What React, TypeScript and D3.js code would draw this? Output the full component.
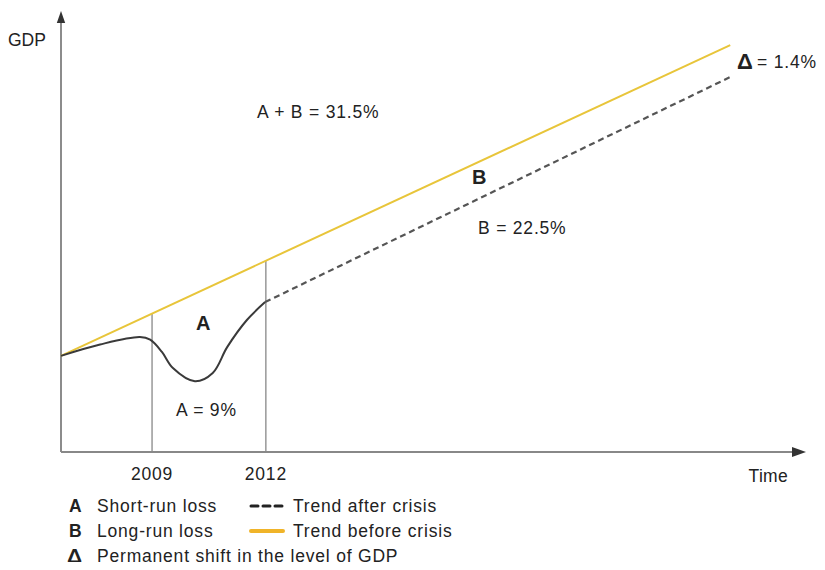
import { useEffect, useRef } from 'react';
import * as d3 from 'd3';

// time axis in years, GDP as an index (0 at the x axis)
const xDomain = [2006.6, 2026];
const yDomain = [0, 100];

const trendBefore: [number, number][] = [
  [2006.6, 22.0],
  [2024.24, 93.1],
];

const trendAfter: [number, number][] = [
  [2011.98, 34.3],
  [2024.24, 85.8],
];

const actualGdp: [number, number][] = [
  [2006.6, 22.0],
  [2007.63, 24.6],
  [2008.68, 26.3],
  [2008.95, 25.7],
  [2009.26, 22.9],
  [2009.55, 19.2],
  [2010.13, 16.2],
  [2010.6, 18.1],
  [2010.98, 24.0],
  [2011.5, 30.2],
  [2011.98, 34.3],
];

const markerYears = [2009, 2012];

const legendRows = [
  { key: 'A', text: 'Short-run loss', line: 'dash', lineText: 'Trend after crisis' },
  { key: 'B', text: 'Long-run loss', line: 'solid', lineText: 'Trend before crisis' },
  { key: 'Δ', text: 'Permanent shift in the level of GDP', line: null, lineText: '' },
];

const FONT = 'Liberation Sans, Arial, sans-serif';
const TEXT = '#222';
const YELLOW_LINE = '#e8c53a';
const YELLOW_LEGEND = '#f0b429';

export default function App() {
  const svgRef = useRef<SVGSVGElement>(null);

  useEffect(() => {
    if (!svgRef.current) return;
    const width = 825;
    const height = 570;
    const margin = { left: 61, right: 28, top: 15, bottom: 118 };

    const svg = d3.select(svgRef.current);
    svg.selectAll('*').remove();

    const x = d3.scaleLinear().domain(xDomain).range([margin.left, width - margin.right]);
    const y = d3.scaleLinear().domain(yDomain).range([height - margin.bottom, margin.top]);
    const x0 = x(xDomain[0]);
    const y0 = y(0);

    const defs = svg.append('defs');
    defs.append('marker')
      .attr('id', 'arrow')
      .attr('viewBox', '0 0 10 10')
      .attr('refX', 5)
      .attr('refY', 5)
      .attr('markerWidth', 8)
      .attr('markerHeight', 8)
      .attr('orient', 'auto')
      .append('path')
      .attr('d', 'M0,1.5 L10,5 L0,8.5 z')
      .attr('fill', '#333');

    // axes
    svg.append('line')
      .attr('x1', x0).attr('y1', y0)
      .attr('x2', x0).attr('y2', y(100) + 2)
      .attr('stroke', '#666').attr('stroke-width', 1.5)
      .attr('marker-end', 'url(#arrow)');
    svg.append('line')
      .attr('x1', x0).attr('y1', y0)
      .attr('x2', width - margin.right + 2).attr('y2', y0)
      .attr('stroke', '#888').attr('stroke-width', 1.8)
      .attr('marker-end', 'url(#arrow)');

    const trendAt = (yr: number) => {
      const [[a, va], [b, vb]] = trendBefore;
      return va + ((vb - va) * (yr - a)) / (b - a);
    };

    const label = (tx: number, ty: number, s: string, opts: { bold?: boolean; size?: number; anchor?: string; spacing?: number } = {}) =>
      svg.append('text')
        .attr('x', tx).attr('y', ty)
        .attr('text-anchor', opts.anchor || 'start')
        .attr('font-family', FONT)
        .attr('font-size', opts.size || 17.5)
        .attr('letter-spacing', opts.spacing ?? 0.8)
        .attr('font-weight', opts.bold ? 'bold' : 'normal')
        .attr('fill', TEXT)
        .text(s);

    // vertical markers
    markerYears.forEach(yr => {
      svg.append('line')
        .attr('x1', x(yr)).attr('x2', x(yr))
        .attr('y1', y0).attr('y2', y(trendAt(yr)))
        .attr('stroke', '#888').attr('stroke-width', 1.3);
      label(x(yr), y0 + 28, String(yr), { anchor: 'middle' });
    });

    const line = d3.line<[number, number]>().x(d => x(d[0])).y(d => y(d[1]));

    svg.append('path')
      .attr('d', line(trendBefore))
      .attr('fill', 'none').attr('stroke', YELLOW_LINE).attr('stroke-width', 2);

    svg.append('path')
      .attr('d', line(trendAfter))
      .attr('fill', 'none').attr('stroke', '#555').attr('stroke-width', 2.2)
      .attr('stroke-dasharray', '6,4');

    svg.append('path')
      .attr('d', line.curve(d3.curveCatmullRom.alpha(0.5))(actualGdp))
      .attr('fill', 'none').attr('stroke', '#3a3a3a').attr('stroke-width', 2);

    label(8, 46, 'GDP', { spacing: 0 });
    label(788, 482, 'Time', { anchor: 'end', spacing: 0.3 });
    label(257, 118, 'A + B = 31.5%');
    label(472, 184, 'B', { bold: true, size: 20, spacing: 0 });
    label(478, 234, 'B = 22.5%');
    label(196, 330, 'A', { bold: true, size: 20, spacing: 0 });
    label(176, 416, 'A = 9%');
    label(737, 69, 'Δ', { bold: true, size: 22, spacing: 0 });
    label(757, 68, '= 1.4%');

    // legend
    legendRows.forEach((row, i) => {
      const ly = 512 + i * 25;
      const isDelta = row.key === 'Δ';
      label(isDelta ? 67 : 69, ly + (isDelta ? 1 : 0), row.key, { bold: true, size: isDelta ? 21 : 17.5, spacing: 0 });
      label(97, ly, row.text);
      if (row.line) {
        svg.append('line')
          .attr('x1', 251).attr('x2', 283)
          .attr('y1', ly - 6).attr('y2', ly - 6)
          .attr('stroke', row.line === 'dash' ? '#222' : YELLOW_LEGEND)
          .attr('stroke-width', row.line === 'dash' ? 3 : 4)
          .attr('stroke-linecap', 'round')
          .attr('stroke-dasharray', row.line === 'dash' ? '7,5' : null);
        label(293, ly, row.lineText);
      }
    });
  }, []);

  return (
    <div style={{ width: 825, height: 570, margin: -8, background: '#fff' }}>
      <svg ref={svgRef} width={825} height={570} style={{ display: 'block' }} />
    </div>
  );
}
